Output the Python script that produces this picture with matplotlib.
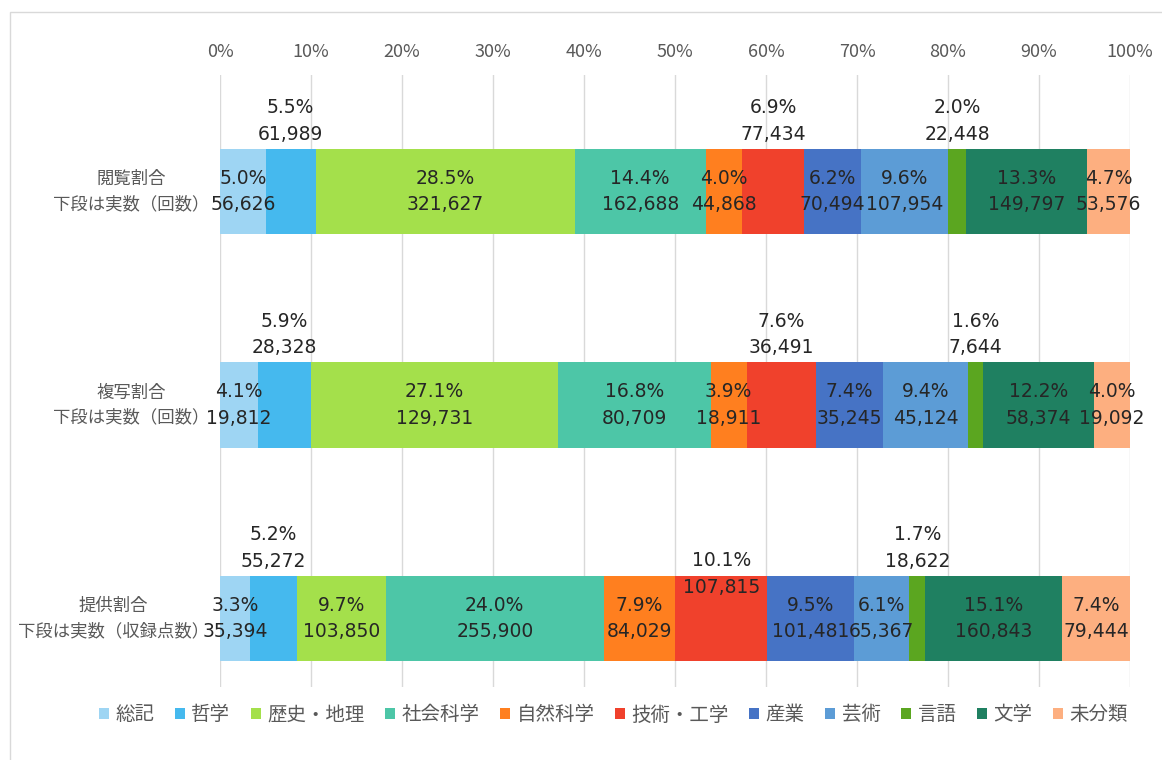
import numpy as np
import matplotlib
matplotlib.use('Agg')
import matplotlib.pyplot as plt
from matplotlib.patches import Rectangle

plt.rcParams['font.family'] = ['Noto Sans CJK JP', 'DejaVu Sans']

# data
categories = ['総記', '哲学', '歴史・地理', '社会科学', '自然科学', '技術・工学',
              '産業', '芸術', '言語', '文学', '未分類']
rows = ['閲覧割合\n下段は実数（回数）',
        '複写割合\n下段は実数（回数）',
        '提供割合\n下段は実数（収録点数）']
views = [56626, 61989, 321627, 162688, 44868, 77434, 70494, 107954, 22448, 149797, 53576]
copies = [19812, 28328, 129731, 80709, 18911, 36491, 35245, 45124, 7644, 58374, 19092]
supply = [35394, 55272, 103850, 255900, 84029, 107815, 101481, 65367, 18622, 160843, 79444]
tick_labels = ['0%', '10%', '20%', '30%', '40%', '50%', '60%', '70%', '80%', '90%', '100%']

colors = ['#9ed5f3', '#45b9ee', '#a4e04b', '#4dc6a7', '#ff7f1f', '#f0412c',
          '#4673c5', '#5c9cd6', '#5ba620', '#1f8061', '#fdaf80']

# label placement: (row, category) -> vertical offset of label block (data units)
label_dy = {(0, 1): -0.33, (0, 5): -0.33, (0, 8): -0.33,
            (1, 1): -0.33, (1, 5): -0.33, (1, 8): -0.33,
            (2, 1): -0.33, (2, 5): -0.21, (2, 8): -0.33}

counts = np.array([views, copies, supply], dtype=float)
shares = counts / counts.sum(axis=1, keepdims=True)

fig = plt.figure(figsize=(11.62, 7.6), dpi=100)
ax = fig.add_axes([220/1162, 1-687/760, 910/1162, (687-75)/760])

# outer chart border
fig.patches.append(Rectangle((10/1162, -0.01), 1.2, 1-12/760+0.01,
                             transform=fig.transFigure, fill=False,
                             edgecolor='#d9d9d9', lw=1.0))

y = np.arange(len(rows))
left = np.zeros(len(rows))
for j, cat in enumerate(categories):
    ax.barh(y, shares[:, j], left=left, height=0.40, color=colors[j],
            label=cat, zorder=3)
    for i in range(len(rows)):
        cx = left[i] + shares[i, j] / 2
        dy = label_dy.get((i, j), 0.0)
        ax.text(cx, i + dy, '{:.1%}\n{:,}'.format(shares[i, j], int(counts[i, j])),
                ha='center', va='center', fontsize=13.5, color='#262626',
                family=['DejaVu Sans'], linespacing=1.5, zorder=5)
    left += shares[:, j]

ax.set_xlim(0, 1)
ax.set_ylim(2.32, -0.545)
ax.xaxis.tick_top()
ax.set_xticks(np.linspace(0, 1, 11))
ax.set_xticklabels(tick_labels, fontsize=13, color='#595959')
ax.tick_params(axis='x', length=0, pad=10)
ax.set_yticks([])
ax.grid(axis='x', color='#d9d9d9', lw=1, zorder=0)
for s in ax.spines.values():
    s.set_visible(False)

for i, r in enumerate(rows):
    ax.text(-0.012, i, r, ha='right', va='center', multialignment='center',
            fontsize=12.5, color='#595959', linespacing=1.5)

fig.legend(loc='center', bbox_to_anchor=(0.528, 1-715/760), ncol=11, frameon=False,
           fontsize=14, handlelength=0.5, handleheight=0.5, handletextpad=0.35,
           columnspacing=1.05, labelcolor='#595959')

fig.savefig('out.png', dpi=100)
